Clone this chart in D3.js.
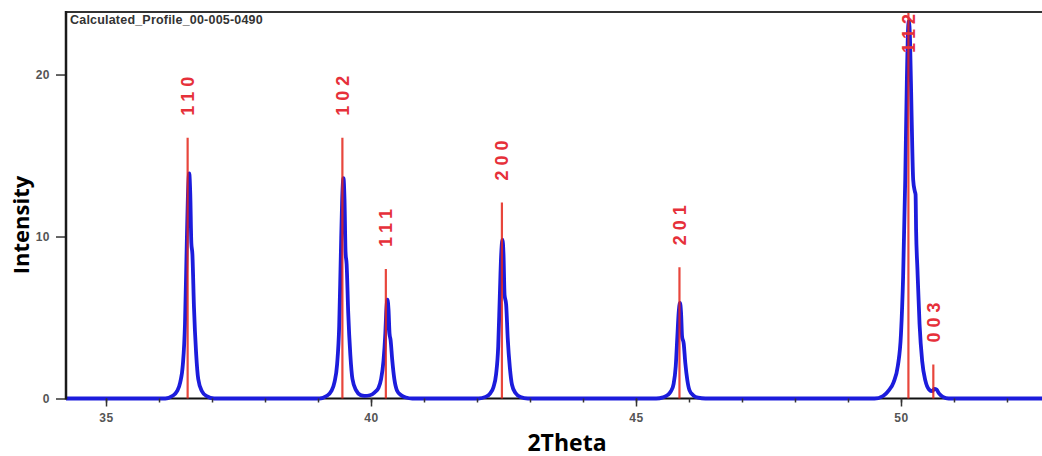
<!DOCTYPE html>
<html>
<head>
<meta charset="utf-8">
<script src="https://cdn.jsdelivr.net/npm/d3@7"></script>
<style>
  body { margin: 0; background: #fff; }
  svg { display: block; }
</style>
</head>
<body>
<script>

// reference sticks (2Theta, intensity, hkl)
var stickPos = [36.54, 39.46, 40.28, 42.47, 45.82, 50.14, 50.61];
var stickInt = [16.1, 16.1, 8.0, 12.1, 8.1, 26, 2.1];
var stickHkl = ["110", "102", "111", "200", "201", "112", "003"];

// calculated profile
var profile110 = [[36.12,0],[36.25,0.15],[36.34,0.45],[36.40,1.0],[36.45,2.1],[36.49,4.6],[36.52,9.0],[36.545,12.5],[36.57,13.9],[36.59,12.6],[36.61,9.6],[36.63,8.9],[36.66,5.6],[36.70,2.8],[36.74,1.2],[36.81,0.45],[36.90,0.14],[37.04,0]];
var profile102 = [[39.03,0],[39.16,0.15],[39.25,0.45],[39.31,1.0],[39.36,2.1],[39.40,4.5],[39.43,8.8],[39.455,12.2],[39.48,13.6],[39.50,12.3],[39.52,9.0],[39.54,8.3],[39.57,5.3],[39.61,2.7],[39.65,1.2],[39.72,0.5],[39.80,0.22],[39.88,0.16]];
var profile111 = [[39.98,0.2],[40.07,0.38],[40.14,0.65],[40.19,1.2],[40.235,2.3],[40.27,4.0],[40.29,5.5],[40.31,6.1],[40.33,5.5],[40.35,4.0],[40.37,3.6],[40.40,2.4],[40.44,1.2],[40.49,0.5],[40.57,0.2],[40.66,0.06],[40.78,0]];
var profile200 = [[42.03,0],[42.16,0.1],[42.25,0.32],[42.31,0.7],[42.36,1.5],[42.40,3.2],[42.43,6.3],[42.455,8.8],[42.48,9.8],[42.50,8.9],[42.52,6.4],[42.55,5.8],[42.58,3.7],[42.62,1.9],[42.66,0.85],[42.73,0.32],[42.82,0.09],[42.96,0]];
var profile201 = [[45.38,0],[45.51,0.07],[45.60,0.22],[45.66,0.45],[45.71,0.9],[45.75,2.0],[45.78,3.8],[45.805,5.3],[45.83,5.9],[45.85,5.3],[45.87,3.8],[45.90,3.4],[45.93,2.2],[45.97,1.1],[46.01,0.5],[46.08,0.2],[46.17,0.05],[46.31,0]];
var profile112 = [[49.50,0],[49.66,0.15],[49.77,0.5],[49.86,1.0],[49.94,2.0],[50.00,4.0],[50.04,7.5],[50.08,13.5],[50.11,19.5],[50.135,22.9],[50.15,23.3],[50.17,22.2],[50.20,17.5],[50.23,13.5],[50.26,12.8],[50.275,12.6],[50.285,10.4],[50.31,8.0],[50.35,4.6],[50.40,2.3],[50.46,1.1],[50.53,0.55],[50.59,0.45],[50.63,0.6],[50.67,0.55],[50.72,0.3],[50.79,0.1],[50.90,0]];

var xMajor = [35, 40, 45, 50];
var xMinor = [35, 36, 37, 38, 39, 40, 41, 42, 43, 44, 45, 46, 47, 48, 49, 50, 51, 52];
var yTicks = [0, 10, 20];

var title = "Calculated_Profile_00-005-0490";
var xTitle = "2Theta";
var yTitle = "Intensity";

var width = 1042, height = 456;
var plotL = 66, plotR = 1046, plotT = 12, plotB = 398.5;

var profile = [[34.1, 0]].concat(profile110, profile102, profile111, profile200,
                                 profile201, profile112, [[52.9, 0]]);

var svg = d3.select("body").append("svg")
    .attr("width", width)
    .attr("height", height);

var x = d3.scaleLinear().domain([34.245, 52.736]).range([plotL, plotR]);
var y = d3.scaleLinear().domain([0, 23.86]).range([plotB, plotT]);

svg.append("defs").append("clipPath")
    .attr("id", "plot")
  .append("rect")
    .attr("x", plotL)
    .attr("y", plotT)
    .attr("width", plotR - plotL)
    .attr("height", plotB - plotT + 4);

// bottom axis line under the profile
svg.append("line")
    .attr("x1", plotL).attr("x2", plotR)
    .attr("y1", plotB).attr("y2", plotB)
    .attr("stroke", "#111")
    .attr("stroke-width", 2);

var plot = svg.append("g").attr("clip-path", "url(#plot)");

var line = d3.line()
    .x(function(d){ return x(d[0]); })
    .y(function(d){ return y(d[1]); })
    .curve(d3.curveMonotoneX);

plot.append("path")
    .datum(profile)
    .attr("fill", "none")
    .attr("stroke", "#1c1cdc")
    .attr("stroke-width", 3.8)
    .attr("stroke-linejoin", "round")
    .attr("d", line);

var sticks = stickPos.map(function(p, i){ return {pos: p, val: stickInt[i], hkl: stickHkl[i]}; });

plot.selectAll("line.stick")
    .data(sticks)
    .enter().append("line")
    .attr("class", "stick")
    .attr("x1", function(d){ return x(d.pos); })
    .attr("x2", function(d){ return x(d.pos); })
    .attr("y1", y(0))
    .attr("y2", function(d){ return y(d.val); })
    .attr("stroke", "#e4261a")
    .attr("stroke-opacity", 0.85)
    .attr("stroke-width", 2.2);

plot.selectAll("text.hkl")
    .data(sticks)
    .enter().append("text")
    .attr("class", "hkl")
    .attr("transform", function(d){
        var ly = Math.max(y(d.val) - 22, plotT + 41);
        return "translate(" + (x(d.pos) + 6.5) + "," + ly + ") rotate(-90)";
    })
    .attr("fill", "#e6303a")
    .style("font-family", "'Liberation Sans', Arial, sans-serif")
    .style("font-size", "18px")
    .style("font-weight", "bold")
    .style("letter-spacing", "5px")
    .text(function(d){ return d.hkl; });

// axes
var axisFont = function(g){
    g.selectAll("text")
        .style("font-family", "'Liberation Sans', Arial, sans-serif")
        .style("font-size", "12px")
        .style("font-weight", "bold")
        .style("letter-spacing", "0.5px")
        .attr("fill", "#555");
    g.select(".domain").remove();
    g.selectAll(".tick line").attr("stroke", "#333").attr("stroke-width", 1.5);
};

svg.append("g")
    .attr("transform", "translate(0," + plotB + ")")
    .call(d3.axisBottom(x).tickValues(xMinor).tickSize(4).tickFormat(""))
    .call(axisFont);

svg.append("g")
    .attr("transform", "translate(0," + plotB + ")")
    .call(d3.axisBottom(x).tickValues(xMajor).tickSize(8).tickPadding(7).tickFormat(d3.format("d")))
    .call(axisFont);

svg.append("g")
    .attr("transform", "translate(" + plotL + ",0)")
    .call(d3.axisLeft(y).tickValues(yTicks).tickSize(10).tickPadding(6).tickFormat(d3.format("d")))
    .call(axisFont);

// frame
svg.append("line")
    .attr("x1", plotL).attr("x2", plotR)
    .attr("y1", plotT).attr("y2", plotT)
    .attr("stroke", "#333")
    .attr("stroke-width", 2);

svg.append("line")
    .attr("x1", plotL).attr("x2", plotL)
    .attr("y1", plotT - 1).attr("y2", plotB + 1)
    .attr("stroke", "#1a1a1a")
    .attr("stroke-width", 2.5);

svg.append("text")
    .attr("x", plotL + 4)
    .attr("y", plotT + 12)
    .attr("fill", "#333")
    .style("font-family", "'Liberation Sans', Arial, sans-serif")
    .style("font-size", "12.5px")
    .style("font-weight", "bold")
    .style("letter-spacing", "0.2px")
    .text(title);

svg.append("text")
    .attr("x", (plotL + 1042) / 2 + 13)
    .attr("y", 451)
    .attr("text-anchor", "middle")
    .style("font-family", "'Open Sans', sans-serif")
    .style("font-size", "23px")
    .style("font-weight", "bold")
    .text(xTitle);

svg.append("text")
    .attr("transform", "translate(29,225) rotate(-90)")
    .attr("text-anchor", "middle")
    .style("font-family", "'Open Sans', sans-serif")
    .style("font-size", "22px")
    .style("font-weight", "bold")
    .text(yTitle);

</script>
</body>
</html>
